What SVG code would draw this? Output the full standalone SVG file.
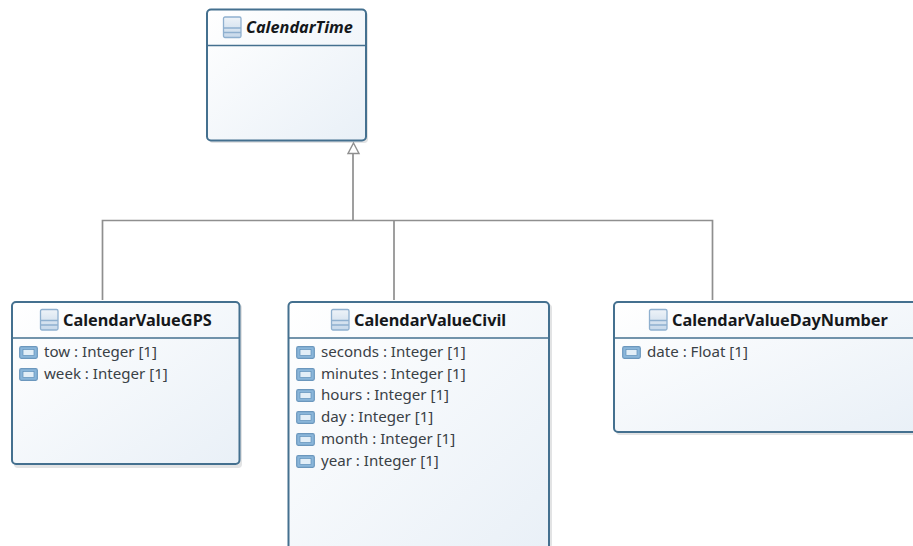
<svg xmlns="http://www.w3.org/2000/svg" xmlns:xlink="http://www.w3.org/1999/xlink" width="913" height="546" viewBox="0 0 913 546">
<style>
text{font-family:"Noto Sans","Open Sans",sans-serif;fill:#3a4146;font-size:15.1px}
.t{font-weight:700;fill:#15181b;font-size:16.3px}
.box{fill:url(#bg);stroke:#44708f;stroke-width:2}
.sh{fill:#8a8f94;opacity:.25}
.div{stroke:#44708f;stroke-width:1.5;fill:none}
.conn{stroke:#8f8f8f;stroke-width:1.7;fill:none}
</style>
<defs>
<linearGradient id="bg" x1="0" y1="0" x2="1" y2="1"><stop offset="0" stop-color="#ffffff"/><stop offset="1" stop-color="#e9f0f7"/></linearGradient>
<linearGradient id="ig" x1="0" y1="0" x2="0" y2="1"><stop offset="0" stop-color="#eef3f8"/><stop offset="1" stop-color="#c6d8ea"/></linearGradient>
<g id="cls"><rect x="0.5" y="0.5" width="17.500" height="20.500" rx="1.5" fill="url(#ig)" stroke="#8fb0cf" stroke-width="1.3"/><path d="M1 11.500H18M1 16H18" stroke="#8fb0cf" stroke-width="1.3"/></g>
<g id="attr"><rect x="0.700" y="0.700" width="17.600" height="11.600" rx="1.500" fill="#8ab6da" stroke="#6b97bd" stroke-width="1.200"/><rect x="4" y="3.500" width="11" height="6" fill="#e2eef7" stroke="#5f8fb8" stroke-width=".7"/></g>
</defs>
<g id="connectors">
<path class="conn" d="M353 154V220M102.500 300V220.500H712.500V300M394 220.500V300"/>
<path d="M353.500 143L359 153.500H348Z" fill="#fff" stroke="#8f8f8f" stroke-width="1.400"/>
</g>
<g id="CalendarTime">
<rect class="sh" x="209" y="12" width="159" height="131" rx="4"/>
<rect class="box" x="207" y="9.500" width="159" height="131" rx="4"/>
<path class="div" d="M207 45.500H366"/>
<use xlink:href="#cls" href="#cls" x="223" y="16.500"/>
<text x="246" y="33" font-style="italic" class="t">CalendarTime</text>
</g>
<g id="CalendarValueGPS">
<rect class="sh" x="14" y="304" width="228" height="164" rx="4"/>
<rect class="box" x="12" y="302" width="227.500" height="162" rx="4"/>
<path class="div" d="M12 338H239.500"/>
<use xlink:href="#cls" href="#cls" x="40" y="309"/>
<text x="63" y="326" class="t">CalendarValueGPS</text>
<use xlink:href="#attr" href="#attr" x="19" y="346"/>
<text x="44" y="357">tow : Integer [1]</text>
<use xlink:href="#attr" href="#attr" x="19" y="368"/>
<text x="44" y="379">week : Integer [1]</text>
</g>
<g id="CalendarValueCivil">
<rect class="sh" x="291" y="304" width="261" height="244" rx="4"/>
<rect class="box" x="288.500" y="302" width="260.500" height="250" rx="4"/>
<path class="div" d="M288.500 338H549"/>
<use xlink:href="#cls" href="#cls" x="331" y="309"/>
<text x="354" y="326" class="t">CalendarValueCivil</text>
<use xlink:href="#attr" href="#attr" x="296" y="346"/>
<text x="321" y="357">seconds : Integer [1]</text>
<use xlink:href="#attr" href="#attr" x="296" y="368"/>
<text x="321" y="379">minutes : Integer [1]</text>
<use xlink:href="#attr" href="#attr" x="296" y="389"/>
<text x="321" y="400">hours : Integer [1]</text>
<use xlink:href="#attr" href="#attr" x="296" y="411"/>
<text x="321" y="422">day : Integer [1]</text>
<use xlink:href="#attr" href="#attr" x="296" y="433"/>
<text x="321" y="444">month : Integer [1]</text>
<use xlink:href="#attr" href="#attr" x="296" y="455"/>
<text x="321" y="466">year : Integer [1]</text>
</g>
<g id="CalendarValueDayNumber">
<rect class="sh" x="616" y="304" width="305" height="131" rx="4"/>
<rect class="box" x="614" y="302" width="305" height="130" rx="4"/>
<path class="div" d="M614 338H919"/>
<use xlink:href="#cls" href="#cls" x="649" y="309"/>
<text x="672" y="326" class="t">CalendarValueDayNumber</text>
<use xlink:href="#attr" href="#attr" x="622" y="346"/>
<text x="647" y="357">date : Float [1]</text>
</g>
</svg>
